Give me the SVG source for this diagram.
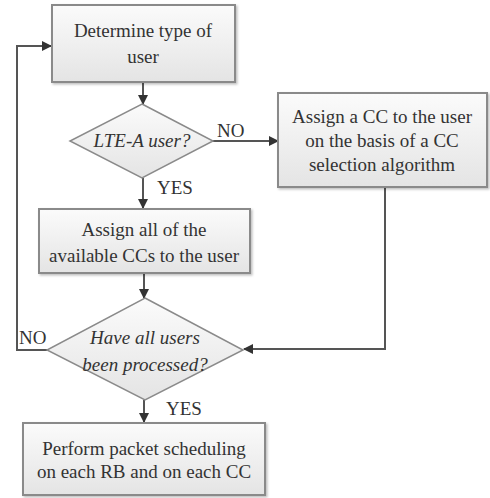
<svg xmlns="http://www.w3.org/2000/svg" width="490" height="498" viewBox="0 0 490 498">
<defs>
<linearGradient id="g" x1="0" y1="0" x2="0" y2="1">
<stop offset="0" stop-color="#fbfbfb"/>
<stop offset="1" stop-color="#e4e4e4"/>
</linearGradient>
<marker id="ah" markerWidth="10" markerHeight="10" refX="9" refY="5" orient="auto" markerUnits="userSpaceOnUse">
<path d="M0,0 L10,5 L0,10 z" fill="#333"/>
</marker>
<filter id="sh" x="-10%" y="-10%" width="130%" height="130%">
<feDropShadow dx="1.5" dy="1.5" stdDeviation="1" flood-color="#000" flood-opacity="0.25"/>
</filter>
</defs>
<style>
.box{fill:url(#g);stroke:#8a8a8a;stroke-width:2;filter:url(#sh)}
.dia{fill:url(#g);stroke:#8a8a8a;stroke-width:1.5}
text{font-family:"Liberation Serif","Times New Roman",serif;font-size:19px;fill:#333}
.t{text-anchor:middle}
.i{font-style:italic}
.c{fill:none;stroke:#555;stroke-width:2}
</style>
<rect width="490" height="498" fill="#fff"/>
<g id="connectors">
<path class="c" d="M143,82 V104" marker-end="url(#ah)"/>
<path class="c" d="M213,141 H278" marker-end="url(#ah)"/>
<path class="c" d="M143,178 V208" marker-end="url(#ah)"/>
<path class="c" d="M144,273 V298" marker-end="url(#ah)"/>
<path class="c" d="M385,187 V349 H244" marker-end="url(#ah)"/>
<path class="c" d="M47,350 H17 V46 H51" marker-end="url(#ah)"/>
<path class="c" d="M144,400 V422" marker-end="url(#ah)"/>
<text x="217" y="137">NO</text>
<text x="157" y="194">YES</text>
<text x="19" y="344">NO</text>
<text x="166" y="415">YES</text>
</g>
<g id="n1">
<rect class="box" x="52" y="5" width="183" height="77"/>
<text class="t" x="143" y="37">Determine type of</text>
<text class="t" x="143" y="63">user</text>
</g>
<g id="n2">
<polygon class="dia" points="142,104 213,141 142,178 70,141"/>
<text class="t i" x="142" y="147">LTE-A user?</text>
</g>
<g id="n3">
<rect class="box" x="278" y="93" width="209" height="94"/>
<text class="t" x="382" y="123">Assign a CC to the user</text>
<text class="t" x="382" y="147">on the basis of a CC</text>
<text class="t" x="382" y="171">selection algorithm</text>
</g>
<g id="n4">
<rect class="box" x="39" y="209" width="211" height="64"/>
<text class="t" x="144" y="236">Assign all of the</text>
<text class="t" x="144" y="262">available CCs to the user</text>
</g>
<g id="n5">
<polygon class="dia" points="145,298 243,350 145,400 47,350"/>
<text class="t i" x="145" y="344">Have all users</text>
<text class="t i" x="145" y="371">been processed?</text>
</g>
<g id="n6">
<rect class="box" x="23" y="423" width="242" height="72"/>
<text class="t" x="144" y="455">Perform packet scheduling</text>
<text class="t" x="144" y="478">on each RB and on each CC</text>
</g>
</svg>
